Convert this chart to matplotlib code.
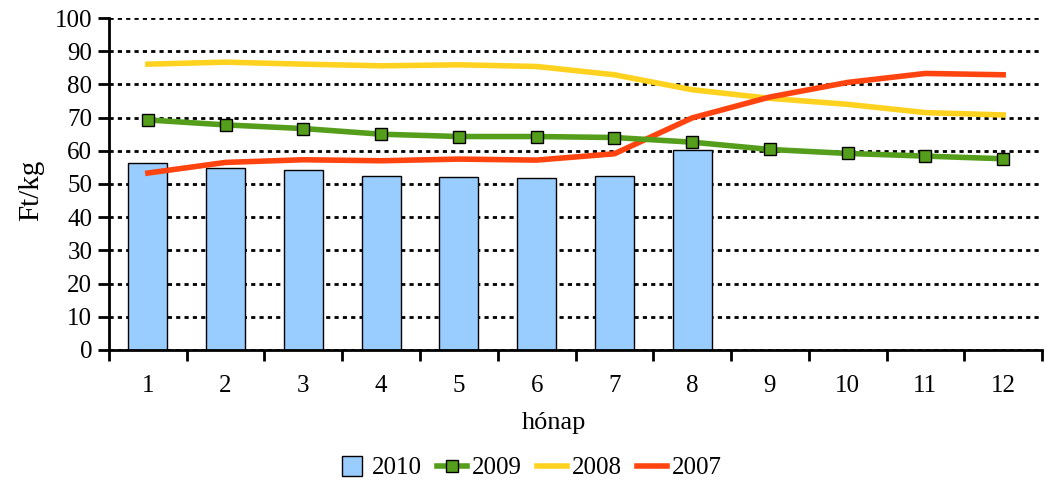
import numpy as np
import matplotlib.pyplot as plt
from matplotlib.lines import Line2D

months = [1, 2, 3, 4, 5, 6, 7, 8, 9, 10, 11, 12]
month_labels = [str(m) for m in months]

# 2010 only has data up to August
y2010 = [56.3, 54.8, 54.1, 52.5, 52.1, 51.8, 52.4, 60.1]
y2009 = [69.3, 67.8, 66.7, 65.0, 64.3, 64.3, 64.0, 62.6, 60.4, 59.2, 58.4, 57.6]
y2008 = [86.1, 86.7, 86.1, 85.6, 85.9, 85.4, 82.9, 78.4, 75.8, 74.0, 71.5, 70.8]
y2007 = [53.3, 56.5, 57.3, 57.0, 57.5, 57.2, 59.1, 69.9, 76.2, 80.6, 83.3, 82.9]

plt.rcParams['font.family'] = ['Liberation Serif', 'DejaVu Serif']
plt.rcParams['font.size'] = 18

fig = plt.figure(figsize=(10.46, 4.84), dpi=100)
ax = fig.add_axes([0.1042, 0.2769, 0.892, 0.6859])

ax.bar(months[:len(y2010)], y2010, width=0.5, color='#99CCFF',
       edgecolor='black', linewidth=1, zorder=2)
l9, = ax.plot(months, y2009, color='#559E1C', lw=4, marker='s', markersize=8,
              markerfacecolor='#559E1C', markeredgecolor='black', markeredgewidth=1,
              label='2009', zorder=4)
l8, = ax.plot(months, y2008, color='#FFD21F', lw=4, label='2008', zorder=3)
l7, = ax.plot(months, y2007, color='#FF4410', lw=4, label='2007', zorder=3)

ax.set_xlim(0.5, 12.5)
ax.set_ylim(0, 100)
ax.set_yticks(np.arange(0, 101, 10))
ax.set_xticks(months)
ax.set_xticklabels(month_labels)
ax.set_xticks(np.arange(0.5, 12.6, 1), minor=True)
ax.tick_params(axis='x', which='major', length=0, pad=18)
ax.tick_params(axis='x', which='minor', length=8, width=2)
ax.tick_params(axis='y', length=8, width=2, pad=4)

ax.yaxis.grid(True, color='black', linestyle=(0, (1.5, 1.5)), linewidth=2, zorder=0)
ax.set_axisbelow(True)
for s in ['top', 'right']:
    ax.spines[s].set_visible(False)
for s in ['left', 'bottom']:
    ax.spines[s].set_linewidth(2)

ax.set_ylabel('Ft/kg', fontsize=21, labelpad=8)
ax.yaxis.label.set_y(0.48)
ax.set_xlabel('hónap', fontsize=19, labelpad=11)
ax.xaxis.label.set_x(0.477)

# square legend key for the bars
b = Line2D([], [], linestyle='none', marker='s', markersize=15,
           markerfacecolor='#99CCFF', markeredgecolor='black', markeredgewidth=1,
           label='2010')
ax.legend(handles=[b, l9, l8, l7], loc='center', bbox_to_anchor=(0.451, -0.356),
          ncol=4, frameon=False, handlelength=1.2, handletextpad=0.2,
          columnspacing=0.6, borderpad=0)

fig.savefig('out.png', dpi=100)
